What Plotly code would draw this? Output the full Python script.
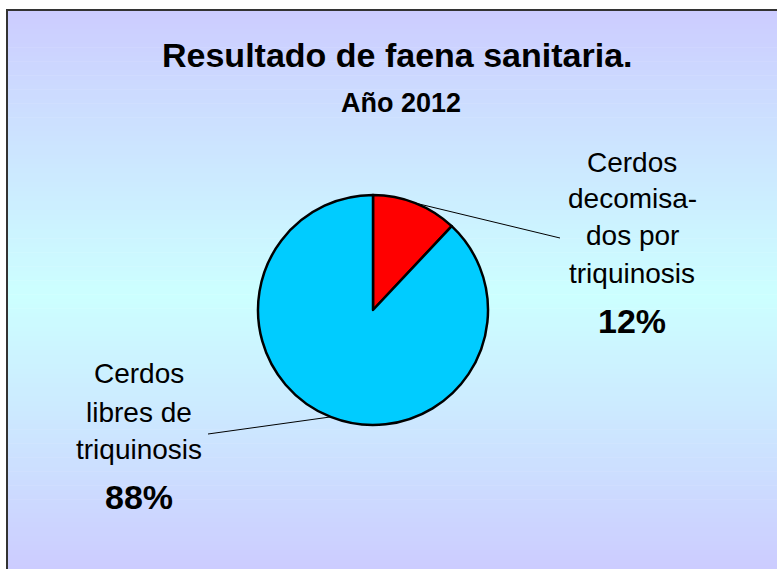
import numpy as np
import plotly.graph_objects as go

# ---- data ----
labels = ["Cerdos decomisados por triquinosis", "Cerdos libres de triquinosis"]
values = [12, 88]
colors = ["#FF0000", "#00CCFF"]
label_lines = [["Cerdos", "decomisa-", "dos por", "triquinosis"],
               ["Cerdos", "libres de", "triquinosis"]]
pct_text = ["12%", "88%"]
title_text = "Resultado de faena sanitaria."
subtitle_text = "Año 2012"

W, H = 777, 569
FONT = "Liberation Sans, Arial, sans-serif"

# pie geometry (pixels)
cx, cy, r = 373, 310, 115

fig = go.Figure()
fig.add_trace(go.Pie(
    labels=labels, values=values, sort=False, direction="clockwise", rotation=0,
    marker=dict(colors=colors, line=dict(color="black", width=2.5)),
    textinfo="none", hoverinfo="label+percent", showlegend=False,
    domain=dict(x=[(cx - r) / W, (cx + r) / W], y=[1 - (cy + r) / H, 1 - (cy - r) / H]),
))

shapes = []
# background gradient: lavender -> light cyan -> lavender
top = np.array([204, 204, 255]); mid = np.array([204, 255, 255])
y0f, ymid, y1f = 10, 295, 569
n = 120
edges = np.linspace(y0f, y1f, n + 1)
for i in range(n):
    yc = (edges[i] + edges[i + 1]) / 2
    if yc < ymid:
        t = (yc - y0f) / (ymid - y0f)
    else:
        t = (y1f - yc) / (y1f - ymid)
    c = top + (mid - top) * t
    shapes.append(dict(type="rect", xref="x", yref="y", x0=7, x1=W + 5,
                       y0=edges[i], y1=edges[i + 1] + 0.6, layer="below",
                       line=dict(width=0),
                       fillcolor="rgb(%d,%d,%d)" % tuple(np.round(c).astype(int))))
# frame
shapes.append(dict(type="rect", xref="x", yref="y", x0=7, x1=W + 10, y0=10, y1=H + 10,
                   layer="below", line=dict(color="#333333", width=2), fillcolor="rgba(0,0,0,0)"))

# leader lines from slice mid-angles
frac = np.array(values) / np.sum(values)
cum = np.cumsum(frac) - frac / 2
label_ends = [(560, 238), (208, 434)]
for k, f in enumerate(cum):
    ang = 2 * np.pi * f
    sx = cx + r * np.sin(ang)
    sy = cy - r * np.cos(ang)
    ex, ey = label_ends[k]
    shapes.append(dict(type="line", xref="x", yref="y", x0=sx, y0=sy, x1=ex, y1=ey,
                       line=dict(color="black", width=1), layer="above"))

annotations = [
    dict(x=397, y=55, text="<b>" + title_text + "</b>", font=dict(size=34, family=FONT, color="black")),
    dict(x=401, y=103, text="<b>" + subtitle_text + "</b>", font=dict(size=27, family=FONT, color="black")),
]
label_pos = [(632, [162.5, 198, 235.5, 273.5], 321), (139, [373.5, 412, 449], 497)]
for k, (lx, ys, py) in enumerate(label_pos):
    for line, yy in zip(label_lines[k], ys):
        annotations.append(dict(x=lx, y=yy, text=line,
                                font=dict(size=28, family=FONT, color="black")))
    annotations.append(dict(x=lx, y=py, text="<b>" + pct_text[k] + "</b>",
                            font=dict(size=34, family=FONT, color="black")))
for a in annotations:
    a.update(xref="x", yref="y", showarrow=False, xanchor="center", yanchor="middle")

fig.update_layout(
    width=W, height=H, margin=dict(l=0, r=0, t=0, b=0),
    paper_bgcolor="white", plot_bgcolor="rgba(0,0,0,0)",
    xaxis=dict(range=[0, W], visible=False, fixedrange=True),
    yaxis=dict(range=[H, 0], visible=False, fixedrange=True),
    shapes=shapes, annotations=annotations,
)
fig.write_html("out.html", config={"displayModeBar": False},
               post_script="document.body.style.margin='0';document.body.style.overflow='hidden';")
